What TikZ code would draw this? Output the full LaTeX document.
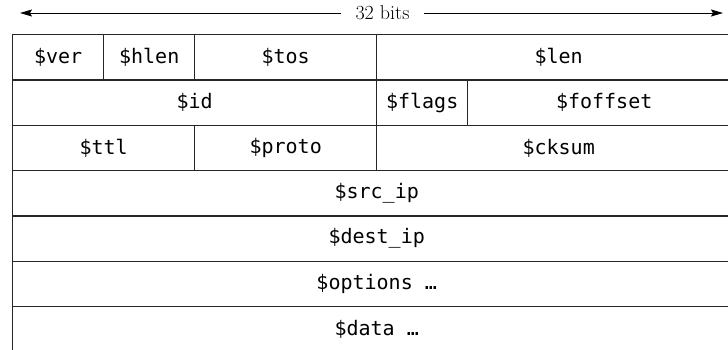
\documentclass[tikz,border=0pt]{standalone}
\usepackage{fontspec}
\newfontfamily\monof{DejaVu Sans Mono}
\usetikzlibrary{arrows.meta}
\begin{document}
\begin{tikzpicture}[x=1pt,y=-1pt,
  cell/.style={draw=black!85, line width=1.4pt, inner sep=0pt, anchor=north west,
    minimum height=45.3pt, font=\monof\fontsize{20}{22}\selectfont},
  w4/.style={minimum width=91pt},
  w8/.style={minimum width=182pt},
  w16/.style={minimum width=364pt},
  w32/.style={minimum width=728pt},
  lbl/.style={font=\fontsize{20}{22}\selectfont, inner xsep=14pt, inner ysep=2pt},
  bitarrow/.style={line width=1pt, -{Stealth[length=12pt,width=7pt,inset=2pt]}}]
\useasboundingbox (0,0) rectangle (728,349);
\clip (0,0) rectangle (728,349);
% width arrow
\node[lbl] (bits) at (382.5,13) {32 bits};
\coordinate (al) at (20,13);
\coordinate (ar) at (723,13);
\draw[bitarrow] (bits.west) -- (al);
\draw[bitarrow] (bits.east) -- (ar);
% row 1
\node[cell,w4]  (ver)  at (12,34)  {\$ver};
\node[cell,w4]  (hlen) at (103,34) {\$hlen};
\node[cell,w8]  (tos)  at (194,34) {\$tos};
\node[cell,w16] (len)  at (376,34) {\$len};
% row 2
\node[cell,w16] (id)      at (12,79.3)  {\$id};
\node[cell,w4]  (flags)   at (376,79.3) {\$flags};
\node[cell,minimum width=273pt] (foffset) at (467,79.3) {\$foffset};
% row 3
\node[cell,w8]  (ttl)   at (12,124.6)  {\$ttl};
\node[cell,w8]  (proto) at (194,124.6) {\$proto};
\node[cell,w16] (cksum) at (376,124.6) {\$cksum};
% rows 4-7
\node[cell,w32] (src)  at (12,169.9) {\$src\_ip};
\node[cell,w32] (dest) at (12,215.2) {\$dest\_ip};
\node[cell,w32] (opts) at (12,260.5) {\$options …};
\node[cell,w32] (data) at (12,305.8) {\$data …};
\end{tikzpicture}
\end{document}
